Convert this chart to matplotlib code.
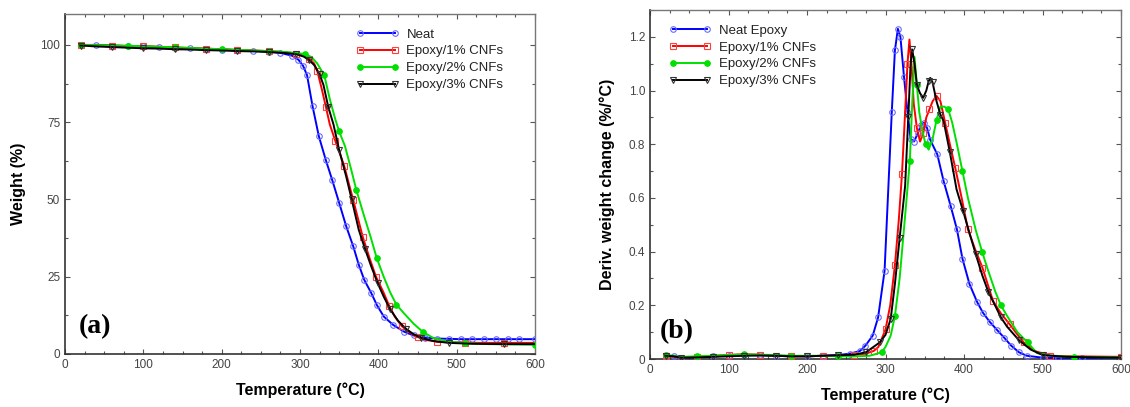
import numpy as np
import matplotlib
matplotlib.use("Agg")
import matplotlib.pyplot as plt
from matplotlib.ticker import MultipleLocator

plt.rcParams['font.family'] = ['Liberation Sans', 'DejaVu Sans']

# ---------------- TGA data (panel a) ----------------
labels_a = ["Neat", "Epoxy/1% CNFs", "Epoxy/2% CNFs", "Epoxy/3% CNFs"]
labels_b = ["Neat Epoxy", "Epoxy/1% CNFs", "Epoxy/2% CNFs", "Epoxy/3% CNFs"]

tga_neat_T = [20, 40, 60, 80, 100, 120, 140, 160, 180, 200, 220, 240, 260, 275, 290, 298, 304,
              309, 316, 324, 333, 341, 350, 359, 368, 375, 382, 391, 398, 407, 419, 433, 445,
              460, 475, 490, 505, 520, 535, 550, 565, 580, 600]
tga_neat_W = [100, 100, 99.8, 99.6, 99.5, 99.3, 99.1, 98.9, 98.7, 98.5, 98.3, 98.1, 97.8, 97.4,
              96.5, 95.2, 93.2, 90.2, 80.2, 70.5, 62.7, 56.4, 48.9, 41.3, 34.8, 28.9, 24, 19.7,
              15.9, 12.1, 9.4, 7.2, 6.0, 5.3, 5.0, 4.9, 4.8, 4.8, 4.8, 4.8, 4.8, 4.8, 4.8]

tga_1_T = [20, 40, 60, 80, 100, 120, 140, 160, 180, 200, 220, 240, 260, 280, 295, 305, 312, 318,
           322, 328, 333, 338, 345, 350, 356.5, 363, 368, 372.7, 380, 388.8, 397, 407, 414, 421,
           430, 440, 450, 460, 475, 490, 510, 530, 560, 600]
tga_1_W = [100, 99.9, 99.8, 99.7, 99.6, 99.4, 99.2, 99.0, 98.8, 98.6, 98.4, 98.2, 98.0, 97.7,
           97.2, 96.6, 95.6, 94.0, 91.6, 85.5, 80, 74.3, 69, 65.5, 60.8, 54.5, 49.8, 45.1, 38,
           31, 25, 19.7, 15.5, 12.1, 9.0, 7.0, 5.5, 4.6, 4.0, 3.8, 3.7, 3.6, 3.6, 3.6]

tga_2_T = [20, 40, 60, 80, 100, 120, 140, 160, 180, 200, 220, 240, 260, 280, 295, 307, 315, 322,
           331, 338, 345, 350, 357.5, 365, 372, 382, 390, 398, 407, 415, 423, 432.6, 445, 456.6,
           470, 490, 510, 540, 570, 600]
tga_2_W = [100, 99.9, 99.8, 99.7, 99.6, 99.4, 99.2, 99.0, 98.8, 98.6, 98.4, 98.2, 98.0, 97.7,
           97.4, 97.0, 96.0, 94.0, 90.2, 82.5, 76, 72, 67.2, 60, 53, 44.5, 38, 31, 24.9, 20,
           16, 13.2, 9.8, 7.2, 5.2, 4.0, 3.5, 3.2, 3.1, 3.0]

tga_3_T = [20, 40, 60, 80, 100, 120, 140, 160, 180, 200, 220, 240, 260, 280, 295, 305, 312, 318,
           325, 330, 336, 342.7, 350, 358.9, 366, 375, 383, 391, 399, 407, 415, 425, 435, 445,
           455, 470, 490, 520, 560, 600]
tga_3_W = [99.8, 99.5, 99.3, 99.1, 98.9, 98.8, 98.6, 98.5, 98.3, 98.2, 98.0, 97.9, 97.7, 97.4,
           97.0, 96.2, 95.0, 93.5, 90.5, 87, 80, 74.3, 66, 57.5, 50, 40.2, 34, 28.3, 23, 18.5,
           14.5, 10.8, 8.2, 6.4, 5.2, 4.2, 3.6, 3.3, 3.2, 3.2]

# ---------------- DTG data (panel b) ----------------
dtg_neat_T = [20, 30, 40, 60, 80, 100, 120, 140, 160, 180, 200, 220, 240, 255, 267.6, 274.5,
              283.7, 290.6, 298.8, 308, 312, 315.8, 319, 323.6, 328, 332, 336.4, 341, 345, 349,
              353, 357, 366, 374, 383, 391, 398, 407, 416.6, 424, 432.6, 441.8, 451, 460, 470,
              480, 500, 520, 550, 600]
dtg_neat_Y = [0.012, 0.01, 0.005, 0.006, 0.01, 0.012, 0.015, 0.014, 0.012, 0.01, 0.01, 0.012,
              0.015, 0.02, 0.03, 0.05, 0.087, 0.155, 0.328, 0.92, 1.15, 1.23, 1.2, 1.05, 0.92,
              0.82, 0.81, 0.84, 0.87, 0.88, 0.86, 0.816, 0.762, 0.663, 0.57, 0.483, 0.374,
              0.279, 0.213, 0.173, 0.139, 0.109, 0.08, 0.05, 0.025, 0.012, 0.005, 0.003,
              0.002, 0.002]

dtg_1_T = [20, 40, 60, 80, 100, 120, 140, 160, 180, 200, 220, 240, 260, 275, 285, 291, 300,
           306, 312, 317, 321, 325, 328, 330.5, 333, 336, 340, 344, 348, 352, 356, 360, 365,
           370, 376, 382, 389, 397, 405, 414, 423.5, 430, 437, 447, 458, 467, 476, 490, 510,
           540, 600]
dtg_1_Y = [0.012, 0.005, 0.008, 0.012, 0.015, 0.018, 0.016, 0.012, 0.01, 0.01, 0.012, 0.012,
           0.015, 0.02, 0.03, 0.045, 0.11, 0.2, 0.35, 0.52, 0.69, 0.92, 1.1, 1.19, 1.1, 0.95,
           0.86, 0.81, 0.84, 0.9, 0.93, 0.96, 0.98, 0.96, 0.88, 0.8, 0.71, 0.6, 0.483, 0.41,
           0.34, 0.28, 0.216, 0.17, 0.13, 0.095, 0.062, 0.03, 0.012, 0.01, 0.008]

dtg_2_T = [20, 30, 40, 60, 80, 100, 120, 140, 160, 180, 200, 220, 240, 260, 280, 295, 300,
           306.6, 312, 318, 324, 331, 334, 337, 340, 343, 347, 351, 355, 360, 365, 370, 375,
           380, 385, 391, 398, 405, 415, 423, 430, 440, 447, 455, 468, 481, 493, 510, 540, 600]
dtg_2_Y = [0.015, 0.012, 0.008, 0.01, 0.012, 0.015, 0.017, 0.016, 0.015, 0.012, 0.012, 0.012,
           0.01, 0.01, 0.012, 0.025, 0.045, 0.087, 0.16, 0.3, 0.5, 0.737, 0.95, 1.125, 1.02,
           0.92, 0.85, 0.8, 0.78, 0.82, 0.89, 0.94, 0.94, 0.93, 0.88, 0.8, 0.7, 0.6, 0.48,
           0.4, 0.336, 0.25, 0.2, 0.16, 0.1, 0.062, 0.022, 0.012, 0.008, 0.006]

dtg_3_T = [20, 30, 40, 60, 80, 100, 120, 140, 160, 180, 200, 220, 240, 260, 275, 283.7, 292.8,
           300, 306.6, 312, 318, 325, 329, 332, 334, 337, 340, 344, 348, 352, 355, 357, 360,
           365, 370, 374, 382, 390.5, 399, 407.4, 415, 423.5, 431, 439.5, 447, 455, 470, 485,
           500, 530, 600]
dtg_3_Y = [0.012, 0.01, 0.005, 0.006, 0.008, 0.01, 0.012, 0.013, 0.012, 0.01, 0.01, 0.012,
           0.014, 0.016, 0.025, 0.043, 0.062, 0.09, 0.149, 0.28, 0.45, 0.645, 0.9, 1.1, 1.153,
           1.1, 1.02, 0.99, 0.973, 1.0, 1.035, 1.047, 1.03, 0.96, 0.91, 0.887, 0.77, 0.632,
           0.55, 0.465, 0.39, 0.31, 0.25, 0.2, 0.155, 0.12, 0.07, 0.035, 0.015, 0.008, 0.005]

colors = ['#0000ff', '#ff0000', '#00e000', '#000000']
mfc = ['none', 'none', '#00e000', 'none']
mec = ['#6a6aff', '#ff4040', '#00e000', '#333333']
markers = ['o', 's', 'o', 'v']

fig = plt.figure(figsize=(11.3, 4.07), dpi=100)
W, H = 1130, 407
axA = fig.add_axes([65 / W, 1 - 354 / H, (535 - 65) / W, (354 - 14) / H])
axB = fig.add_axes([650 / W, 1 - 359 / H, (1121 - 650) / W, (359 - 10) / H])

tga = [(tga_neat_T, tga_neat_W), (tga_1_T, tga_1_W), (tga_2_T, tga_2_W), (tga_3_T, tga_3_W)]
dtg = [(dtg_neat_T, dtg_neat_Y), (dtg_1_T, dtg_1_Y), (dtg_2_T, dtg_2_Y), (dtg_3_T, dtg_3_Y)]
mevery_a = [1, 2, 3, 2]
mevery_b = [1, 2, 3, 2]

for i, (T, Y) in enumerate(tga):
    axA.plot(T, Y, color=colors[i], lw=1.4, marker=markers[i], ms=4, mfc=mfc[i],
             mec=mec[i], mew=0.8, markevery=mevery_a[i], label=labels_a[i], zorder=3 + (i == 3))
for i, (T, Y) in enumerate(dtg):
    axB.plot(T, Y, color=colors[i], lw=1.4, marker=markers[i], ms=4, mfc=mfc[i],
             mec=mec[i], mew=0.8, markevery=mevery_b[i], label=labels_b[i], zorder=3 + (i == 3))

def style(ax, xl, yl, ymaj, ymin):
    ax.set_xlim(0, 600)
    ax.set_ylim(*yl)
    ax.xaxis.set_major_locator(MultipleLocator(100))
    ax.xaxis.set_minor_locator(MultipleLocator(25))
    ax.yaxis.set_major_locator(MultipleLocator(ymaj))
    ax.yaxis.set_minor_locator(MultipleLocator(ymin))
    ax.tick_params(which='both', direction='in', top=True, right=True, colors='#555555',
                   labelcolor='#444444', labelsize=8.5, width=0.8)
    ax.tick_params(which='major', length=3.5)
    ax.tick_params(which='minor', length=2)
    for s in ['left', 'bottom']:
        ax.spines[s].set_color('#333333')
        ax.spines[s].set_linewidth(1.2)
    for s in ['top', 'right']:
        ax.spines[s].set_color('#777777')
        ax.spines[s].set_linewidth(1.0)
    ax.set_xlabel('Temperature (\u00b0C)', fontsize=11.5, fontweight='bold', labelpad=8)

style(axA, None, (0, 110), 25, 12.5)
style(axB, None, (0, 1.3), 0.2, 0.1)
axB.yaxis.set_major_formatter(plt.FuncFormatter(lambda v, p: '0' if abs(v) < 1e-9 else f'{v:.1f}'))

axA.set_ylabel('Weight (%)', fontsize=11.5, fontweight='bold', labelpad=10)
axB.set_ylabel('Deriv. weight change (%/\u00b0C)', fontsize=11.5, fontweight='bold', labelpad=10)

leg_kw = dict(frameon=False, numpoints=2, handlelength=3.2, fontsize=9.5,
              labelspacing=0.35, handletextpad=0.6, borderaxespad=0.3)
axA.legend(loc='upper left', bbox_to_anchor=(0.6, 0.985), **leg_kw)
axB.legend(loc='upper left', bbox_to_anchor=(0.02, 0.985), **leg_kw)
for leg in (axA.get_legend(), axB.get_legend()):
    for t in leg.get_texts():
        t.set_color('#222222')

axA.text(0.03, 0.06, '(a)', transform=axA.transAxes, fontsize=20, fontweight='bold',
         family=['Liberation Serif', 'DejaVu Serif'])
axB.text(0.02, 0.06, '(b)', transform=axB.transAxes, fontsize=20, fontweight='bold',
         family=['Liberation Serif', 'DejaVu Serif'])

fig.savefig('out.png', dpi=100)
